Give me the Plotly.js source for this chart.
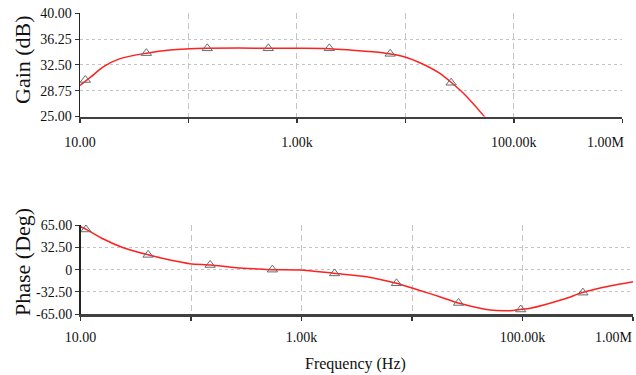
<!DOCTYPE html>
<html>
<head>
<meta charset="utf-8">
<script src="https://cdn.plot.ly/plotly-3.0.1.min.js"></script>
<style>html,body{margin:0;padding:0;background:#fff;}</style>
</head>
<body>
<div id="chart" style="width:636px;height:375px;"></div>
<script>
// Gain curve (Hz, dB)
const gainFreq = [10, 12.6, 16.4, 23.4, 41.2, 67.6, 148, 1000, 2000, 3090, 6170, 9550, 13600, 20800, 26700, 34100, 52100, 63100];
const gainDb   = [29.5, 30.75, 32.2, 33.4, 34.2, 34.65, 34.9, 34.9, 34.85, 34.65, 34.26, 33.7, 32.8, 31.26, 29.9, 28.4, 25.2, 23.6];
// Phase curve (Hz, deg)
const phaseFreq = [10, 11.5, 16.1, 24.4, 41.7, 64.6, 97.7, 151, 257, 417, 556, 977, 1950, 3890, 7240, 10200, 14300, 17800, 26900, 50800, 77100, 97700, 117500, 234000, 355000, 617000, 1000000];
const phaseDeg  = [62.5, 58, 44.6, 32, 21.3, 14, 8.7, 6.8, 2.9, 1, 0, -0.5, -5.3, -10.3, -19.9, -27.2, -34.5, -39.4, -49, -58.7, -59.7, -57.8, -56.3, -43.2, -33, -23.8, -17.5];
// Marker points
const gainMarkFreq = [11.2, 40.9, 149, 545, 1990, 7240, 26400];
const gainMarkDb   = [30.3, 34.2, 34.9, 34.9, 34.9, 34.1, 29.9];
const phaseMarkFreq = [11.2, 40.9, 149, 545, 1990, 7240, 26400, 96400, 352000];
const phaseMarkDeg  = [58.5, 21.5, 6.8, 0, -5.5, -19.9, -48.5, -58, -33.5];
// Ticks
const xTickVals = [10, 100, 1000, 10000, 100000, 1000000];
const xTickText = ['10.00', '', '1.00k', '', '100.00k', ''];
const xLastLabel = '1.00M';
const gainTickVals = [25, 28.75, 32.5, 36.25, 40];
const gainTickText = ['25.00', '28.75', '32.50', '36.25', '40.00'];
const phaseTickVals = [-65, -32.5, 0, 32.5, 65];
const phaseTickText = ['-65.00', '-32.50', '0', '32.50', '65.00'];
const gainTitle = 'Gain (dB)';
const phaseTitle = 'Phase (Deg)';
const freqTitle = 'Frequency (Hz)';

const FONT = 'Liberation Serif';
const lineStyle = {color: '#ff2020', width: 1.5, shape: 'spline', smoothing: 0.8};
const markStyle = {symbol: 'triangle-up-open', size: 9, color: '#6a6a6a', line: {width: 1, color: '#6a6a6a'}};

const traces = [
  {x: gainFreq, y: gainDb, mode: 'lines', line: lineStyle, xaxis: 'x', yaxis: 'y', hoverinfo: 'skip'},
  {x: gainMarkFreq, y: gainMarkDb, mode: 'markers', marker: markStyle, xaxis: 'x', yaxis: 'y', hoverinfo: 'skip'},
  {x: phaseFreq, y: phaseDeg, mode: 'lines', line: lineStyle, xaxis: 'x2', yaxis: 'y2', hoverinfo: 'skip'},
  {x: phaseMarkFreq, y: phaseMarkDeg, mode: 'markers', marker: markStyle, xaxis: 'x2', yaxis: 'y2', hoverinfo: 'skip'}
];

function xAx(domain, anchor, standoff) {
  return {
    type: 'log', range: [1, 6], domain: domain, anchor: anchor,
    tickmode: 'array', tickvals: xTickVals, ticktext: xTickText,
    ticks: 'outside', ticklen: 4, tickwidth: 1.5, tickcolor: '#333',
    ticklabelstandoff: standoff,
    showline: true, linecolor: '#404040', linewidth: 2.5,
    showgrid: true, gridcolor: '#c4c4c4', gridwidth: 1, griddash: '6px,4px',
    zeroline: false, tickfont: {family: FONT, size: 14, color: '#111'}
  };
}
function yAx(domain, anchor, range, vals, text) {
  return {
    range: range, domain: domain, anchor: anchor,
    tickmode: 'array', tickvals: vals, ticktext: text,
    ticks: 'outside', ticklen: 4, tickwidth: 1, tickcolor: '#333',
    showline: true, linecolor: '#222', linewidth: 1.5,
    showgrid: true, gridcolor: '#c4c4c4', gridwidth: 1, griddash: '3px,3px',
    zeroline: false, tickfont: {family: FONT, size: 14, color: '#111'}
  };
}

const W = 636, H = 375;
const layout = {
  width: W, height: H,
  margin: {l: 0, r: 0, t: 0, b: 0},
  paper_bgcolor: '#fff', plot_bgcolor: '#fff',
  showlegend: false,
  font: {family: FONT},
  xaxis: xAx([80 / W, 622.3 / W], 'y', 7),
  yaxis: yAx([1 - 116.5 / H, 1 - 13.2 / H], 'x', [25, 40], gainTickVals, gainTickText),
  xaxis2: xAx([80.5 / W, 633 / W], 'y2', 4),
  yaxis2: yAx([1 - 314.3 / H, 1 - 225 / H], 'x2', [-65, 65], phaseTickVals, phaseTickText),
  annotations: [
    {text: gainTitle, xref: 'paper', yref: 'paper', x: 22 / W, y: 1 - 60 / H, textangle: -90,
     xanchor: 'center', yanchor: 'middle', showarrow: false, font: {family: FONT, size: 22, color: '#111'}},
    {text: phaseTitle, xref: 'paper', yref: 'paper', x: 22 / W, y: 1 - 262 / H, textangle: -90,
     xanchor: 'center', yanchor: 'middle', showarrow: false, font: {family: FONT, size: 22, color: '#111'}},
    {text: freqTitle, xref: 'paper', yref: 'paper', x: 355.5 / W, y: 1 - 364 / H,
     xanchor: 'center', yanchor: 'middle', showarrow: false, font: {family: FONT, size: 16, color: '#111'}},
    {text: xLastLabel, xref: 'paper', yref: 'paper', x: 627 / W, y: 1 - 142.5 / H,
     xanchor: 'right', yanchor: 'middle', showarrow: false, font: {family: FONT, size: 14, color: '#111'}},
    {text: xLastLabel, xref: 'paper', yref: 'paper', x: 635 / W, y: 1 - 337 / H,
     xanchor: 'right', yanchor: 'middle', showarrow: false, font: {family: FONT, size: 14, color: '#111'}}
  ]
};

Plotly.newPlot('chart', traces, layout, {staticPlot: true, displayModeBar: false});
</script>
</body>
</html>
